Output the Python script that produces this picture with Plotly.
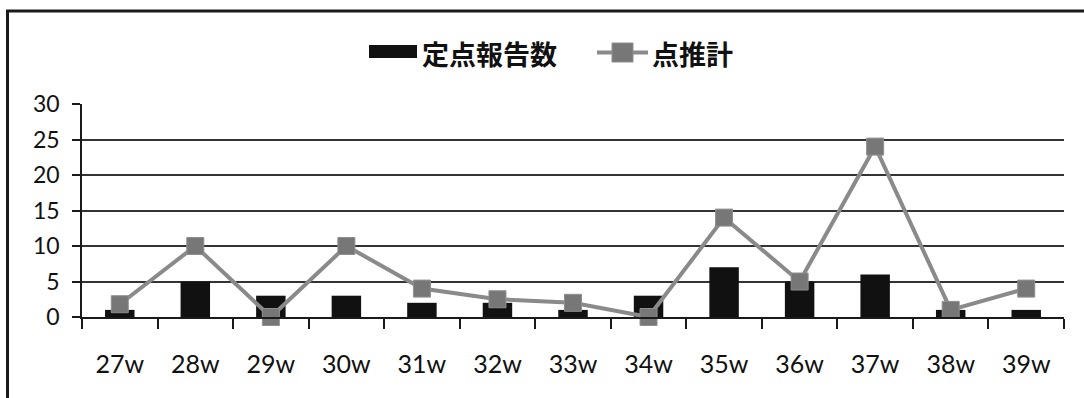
import plotly.graph_objects as go

# Weekly data
weeks = ["27w", "28w", "29w", "30w", "31w", "32w", "33w", "34w", "35w", "36w", "37w", "38w", "39w"]
sentinel_reports = [1, 5, 3, 3, 2, 2, 1, 3, 7, 5, 6, 1, 1]
point_estimate = [1.8, 10, 0, 10, 4, 2.5, 2, 0, 14, 5, 24, 1, 4]

BAR_NAME = "定点報告数"
LINE_NAME = "点推計"

W, H = 1084, 398
# plot area in pixels
PX0, PX1, PY0, PY1 = 82, 1064, 104, 317


def px(x):
    return (x - PX0) / (PX1 - PX0)


def py(y):
    return (PY1 - y) / (PY1 - PY0)


LINE_COLOR = "#8a8a8a"
MARKER_COLOR = "#777777"
TICK_FONT = dict(family="Lato, 'Open Sans', sans-serif", size=23, color="#111111")
XTICK_FONT = dict(family="Lato, 'Open Sans', sans-serif", size=25, color="#111111")
LEGEND_FONT = dict(family="'Noto Sans CJK JP', sans-serif", size=27, color="#111111", weight="bold")

fig = go.Figure()
fig.add_trace(go.Bar(
    x=weeks, y=sentinel_reports, name=BAR_NAME,
    marker=dict(color="#111111", line=dict(width=0)),
))
fig.add_trace(go.Scatter(
    x=weeks, y=point_estimate, name=LINE_NAME, mode="lines+markers",
    line=dict(color=LINE_COLOR, width=4),
    marker=dict(symbol="square", size=17, color=MARKER_COLOR,
                line=dict(color="#8f8f8f", width=1)),
    cliponaxis=False,
))

shapes = [
    # outer frame
    dict(type="rect", xref="paper", yref="paper",
         x0=px(7.5), x1=px(1095), y0=py(410), y1=py(11),
         line=dict(color="#1a1a1a", width=3), layer="above"),
    # legend key: bars
    dict(type="rect", xref="paper", yref="paper",
         x0=px(369), x1=px(417), y0=py(58), y1=py(45),
         fillcolor="#111111", line=dict(width=0)),
    # legend key: line
    dict(type="line", xref="paper", yref="paper",
         x0=px(597), x1=px(648), y0=py(52.5), y1=py(52.5),
         line=dict(color=LINE_COLOR, width=4)),
    dict(type="rect", xref="paper", yref="paper",
         x0=px(612), x1=px(633), y0=py(62), y1=py(43),
         fillcolor=MARKER_COLOR, line=dict(color="#8f8f8f", width=1)),
]

annotations = [
    dict(text=BAR_NAME, xref="paper", yref="paper", x=px(420), y=py(53),
         xanchor="left", yanchor="middle", showarrow=False, font=LEGEND_FONT),
    dict(text=LINE_NAME, xref="paper", yref="paper", x=px(650), y=py(53),
         xanchor="left", yanchor="middle", showarrow=False, font=LEGEND_FONT),
]

fig.update_layout(
    width=W, height=H,
    margin=dict(l=PX0, r=W - PX1, t=PY0, b=H - PY1, pad=0),
    paper_bgcolor="white", plot_bgcolor="white",
    showlegend=False,
    bargap=0.61,
    shapes=shapes,
    annotations=annotations,
    xaxis=dict(
        type="category", range=[-0.5, len(weeks) - 0.5],
        showgrid=False, zeroline=False,
        showline=True, linecolor="#1a1a1a", linewidth=1.5,
        ticks="outside", tickson="boundaries", ticklen=10, tickwidth=1.5,
        tickcolor="#1a1a1a", tickfont=XTICK_FONT, ticklabelstandoff=24,
    ),
    yaxis=dict(
        range=[0, 30], dtick=5, tick0=0,
        showgrid=True, gridcolor="#333333", gridwidth=1.5,
        zeroline=False, showline=True, linecolor="#1a1a1a", linewidth=1.5,
        ticks="outside", ticklen=8, tickwidth=1.5, tickcolor="#1a1a1a",
        tickfont=TICK_FONT, ticklabelstandoff=8,
    ),
)

fig.write_html("out.html")
